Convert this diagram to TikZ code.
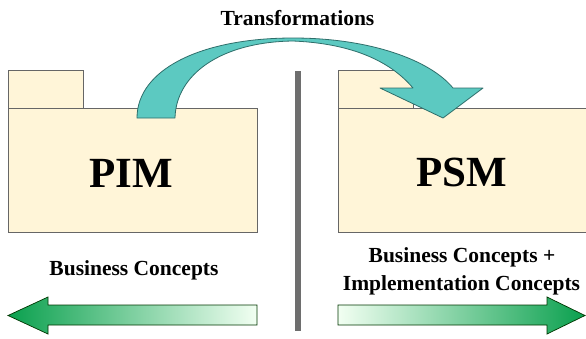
\documentclass[tikz,border=0pt]{standalone}
\usepackage{fontspec}
\setmainfont{Liberation Serif}
\begin{document}
\begin{tikzpicture}[x=1pt,y=-1pt,
  folder/.style={draw=black!60, line width=0.8pt, fill=foldercol},
  bigtext/.style={font=\bfseries\fontsize{43}{48}\selectfont, anchor=base, inner sep=0pt},
  lbl/.style={font=\bfseries\fontsize{21.5}{27}\selectfont, anchor=base, inner sep=0pt},
  greenarrow/.style={draw=black!65!green!60!black, line width=0.7pt}]
\definecolor{foldercol}{HTML}{FFF5D8}
\definecolor{teal}{HTML}{5CC9C1}
\definecolor{tealedge}{HTML}{2E6E6A}
\definecolor{darkg}{HTML}{0AA04E}
\definecolor{paleg}{HTML}{F2FFF2}
\definecolor{barcol}{HTML}{6E6E6E}
\useasboundingbox (0,0) rectangle (586,338);
\fill[white] (0,0) rectangle (586,338);
% PIM folder
\draw[folder] (8,70) rectangle (83,108);
\draw[folder] (8,108) rectangle (257,232);
% PSM folder
\draw[folder] (338,70) rectangle (413,108);
\draw[folder] (338,108) rectangle (590,232);
% separator
\fill[barcol] (295,71) rectangle (301,331);
% transformation arrow
\draw[tealedge, fill=teal, line width=0.8pt, line join=round]
  (137,118) .. controls (137,70) and (200,38) .. (293,38)
  .. controls (370,38) and (430,60) .. (453,88)
  -- (483,88) -- (443,118) -- (380,88) -- (413,88)
  .. controls (385,55) and (340,43) .. (293,41)
  .. controls (220,42) and (176,75) .. (175,118) -- cycle;
% texts
\node[lbl] (tr) at (297.5,25) {Transformations};
\node[bigtext] (pim) at (131.5,187) {PIM};
\node[bigtext] (psm) at (461.5,186) {PSM};
\node[lbl] (bc) at (134,275) {Business Concepts};
\node[lbl] (bc2) at (462,262) {Business Concepts +};
\node[lbl] (ic) at (461.5,290) {Implementation Concepts};
% bottom arrows
\shade[greenarrow, left color=darkg, right color=paleg]
  (8,315.5) -- (48,297) -- (48,305) -- (257,305) -- (257,325) -- (48,325) -- (48,334) -- cycle;
\shade[greenarrow, left color=paleg, right color=darkg]
  (585,315.5) -- (547,297) -- (547,305) -- (338,305) -- (338,325) -- (547,325) -- (547,334) -- cycle;
\end{tikzpicture}
\end{document}
